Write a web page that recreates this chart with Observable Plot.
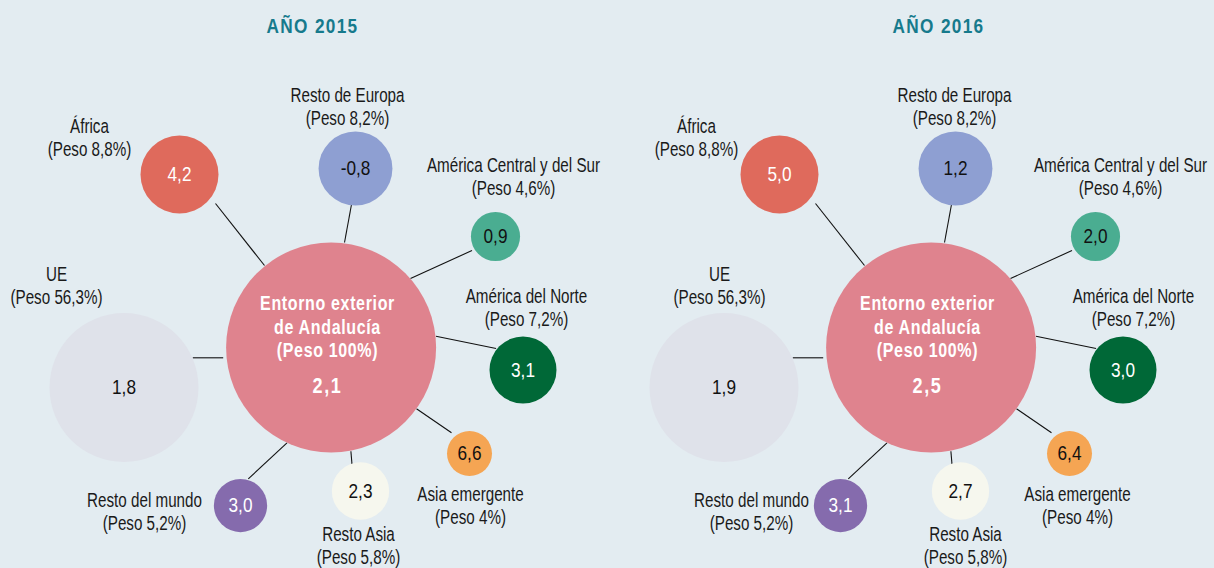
<!DOCTYPE html>
<html><head><meta charset="utf-8">
<script src="https://cdn.jsdelivr.net/npm/d3@7"></script>
<script src="https://cdn.jsdelivr.net/npm/@observablehq/plot@0.6"></script>
<style>
html,body{margin:0;padding:0;background:#e3ecf1;}
#chart svg{display:block;}
.ls1{letter-spacing:0.8px;}
.ls2{letter-spacing:1.6px;}
.ls3{letter-spacing:2px;}
</style></head><body><div id="chart"></div>
<script>
// ---------------- data ----------------
const years = [2015, 2016];
const titles = ["AÑO 2015", "AÑO 2016"];
const regions = ["UE", "África", "Resto de Europa", "América Central y del Sur", "América del Norte", "Asia emergente", "Resto Asia", "Resto del mundo"];
const peso = [56.3, 8.8, 8.2, 4.6, 7.2, 4, 5.8, 5.2];
const growth2015 = [1.8, 4.2, -0.8, 0.9, 3.1, 6.6, 2.3, 3.0];
const growth2016 = [1.9, 5.0, 1.2, 2.0, 3.0, 6.4, 2.7, 3.1];
const totalName = "Entorno exterior\nde Andalucía";
const totalPeso = 100;
const totalGrowth = [2.1, 2.5];

// ---------------- styling ----------------
const regionColors = ["#dfe2ea", "#df6a5c", "#8e9fd2", "#4aad91", "#006837", "#f5a553", "#f6f7ee", "#856bad"];
const totalColor = "#df838e";
const lightText = ["África", "América del Norte", "Resto del mundo", "total"];
const FONT = "'Liberation Sans',Arial,sans-serif";
const NARROW = 0.82, NARROW_LBL = 0.78; // horizontal condensing (no narrow font face is installed)

// ---------------- layout (panel-local positions) ----------------
const W = 1214, H = 568;
const circleDx = [0, 600], labelDx = [0, 607], titleX = [312, 938];
const center = {cx: 330.6, cy: 347, tx: 327};
const layout = [
  {cx: 123.5, cy: 387,   lx: 56,  lx2: 112, ly: 284.5, link: [222.7, 357.3, 192.3, 357.3]},
  {cx: 179,   cy: 174,   lx: 89,  ly: 136.5, link: [264, 265, 215, 203]},
  {cx: 355,   cy: 168,   lx: 347, ly: 105.5, link: [344, 242, 351, 204]},
  {cx: 495,   cy: 236,   lx: 513, ly: 176,   link: [410, 278, 471.5, 250]},
  {cx: 522.5, cy: 369.5, lx: 526, ly: 306.7, link: [435.5, 335.7, 495.6, 348]},
  {cx: 469,   cy: 453,   lx: 470, ly: 504.5, link: [416, 408.3, 451, 432.3]},
  {cx: 360,   cy: 490.5, lx: 358, ly: 545,   link: [350.4, 450.7, 351.5, 464]},
  {cx: 240,   cy: 505,   lx: 144, ly: 511,   link: [286.5, 442.3, 247.8, 478.3]}
];

const fmt = v => v.toFixed(1).replace(".", ",");
const fmtP = p => String(p).replace(".", ",") + "%";

const nodes = years.flatMap((yr, i) => regions.map((name, j) => {
  const L = layout[j], g = (i ? growth2016 : growth2015)[j];
  return {
    year: yr, name, peso: peso[j], value: g,
    x: circleDx[i] + L.cx, y: L.cy,
    lx: labelDx[i] + (i && L.lx2 != null ? L.lx2 : L.lx), ly: L.ly,
    x1: circleDx[i] + L.link[0], y1: L.link[1], x2: circleDx[i] + L.link[2], y2: L.link[3]
  };
}));
const totals = years.map((yr, i) => ({
  year: yr, name: "total", peso: totalPeso, value: totalGrowth[i],
  x: circleDx[i] + center.cx, y: center.cy, tx: circleDx[i] + center.tx
}));
const titleRows = years.map((yr, i) => ({title: titles[i], x: titleX[i], y: 26}));
const circles = [...totals, ...nodes];

const chart = Plot.plot({
  width: W, height: H, margin: 0,
  x: {domain: [0, W], range: [0, W], axis: null},
  y: {domain: [0, H], range: [0, H], axis: null},
  r: {type: "linear", domain: [4, 8.8, 56.3, 100], range: [22.5, 39, 74.5, 105]},
  color: {domain: [...regions, "total"], range: [...regionColors, totalColor]},
  style: {background: "#e3ecf1", fontFamily: FONT},
  marks: [
    Plot.link(nodes, {x1: "x1", y1: "y1", x2: "x2", y2: "y2", stroke: "#111", strokeWidth: 1.1}),
    Plot.dot(circles, {x: "x", y: "y", r: "peso", fill: "name", sort: null}),
    Plot.text(nodes.filter(d => lightText.includes(d.name)), {x: "x", y: "y", text: d => fmt(d.value), fill: "white", fontSize: 21}),
    Plot.text(nodes.filter(d => !lightText.includes(d.name)), {x: "x", y: "y", text: d => fmt(d.value), fill: "#111", fontSize: 21}),
    Plot.text(nodes, {x: "lx", y: "ly", text: d => d.name + "\n(Peso " + fmtP(d.peso) + ")", fill: "#1a1a1a", fontSize: 19.5, lineHeight: 23 / 19.5, className: "lbl"}),
    Plot.text(totals, {x: "tx", y: 325.8, text: d => totalName + "\n(Peso " + fmtP(d.peso) + ")", fill: "white", fontSize: 19.5, fontWeight: "bold", lineHeight: 23.5 / 19.5, className: "ls1"}),
    Plot.text(totals, {x: "tx", y: 385, text: d => fmt(d.value), fill: "white", fontSize: 22, fontWeight: "bold", className: "ls3"}),
    Plot.text(titleRows, {x: "x", y: "y", text: "title", fill: "#167a8c", fontSize: 21, fontWeight: "bold", className: "ls2"})
  ]
});
d3.select(chart).selectAll("text").each(function () {
  const k = this.closest(".lbl") ? NARROW_LBL : NARROW;
  const t = this.getAttribute("transform") || "";
  this.setAttribute("transform", t + ` scale(${k},1)`);
});
document.getElementById("chart").appendChild(chart);
</script>
</body></html>
